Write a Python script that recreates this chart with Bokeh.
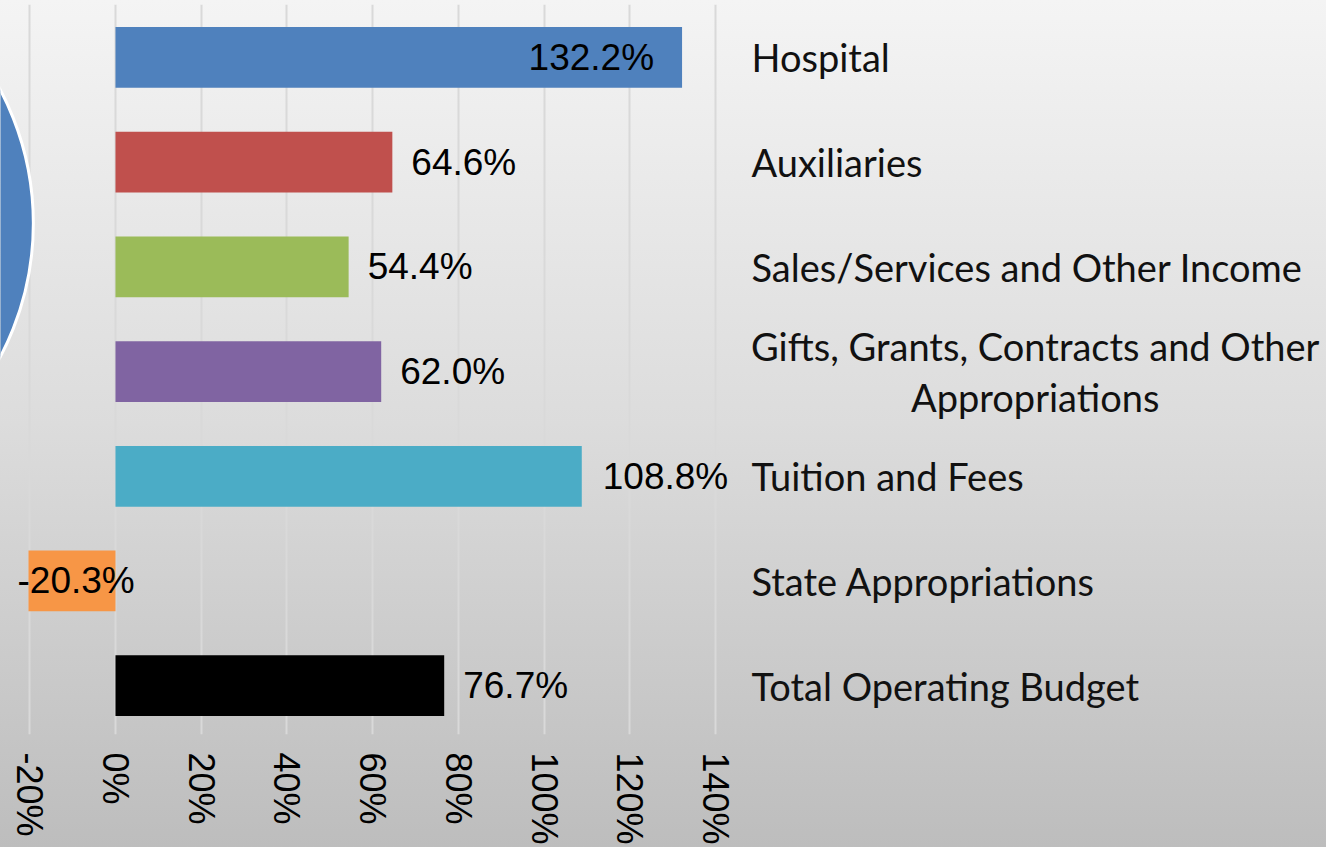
import math
from bokeh.plotting import figure
from bokeh.models import Range1d, FixedTicker, ColumnDataSource
from bokeh.core.properties import value
from bokeh.embed import file_html
from bokeh.resources import INLINE

# ---- data ----
categories = ["Hospital", "Auxiliaries", "Sales/Services and Other Income",
              "Gifts, Grants, Contracts and Other Appropriations", "Tuition and Fees",
              "State Appropriations", "Total Operating Budget"]
display_names = ["Hospital", "Auxiliaries", "Sales/Services and Other Income",
                 "Gifts, Grants, Contracts and Other\nAppropriations", "Tuition and Fees",
                 "State Appropriations", "Total Operating Budget"]
changes = [132.2, 64.6, 54.4, 62.0, 108.8, -20.3, 76.7]
value_labels = ["132.2%", "64.6%", "54.4%", "62.0%", "108.8%", "-20.3%", "76.7%"]
colors = ["#4F81BD", "#C0504D", "#9BBB59", "#8064A2", "#4BACC6", "#F79646", "#000000"]
tick_values = [-20, 0, 20, 40, 60, 80, 100, 120, 140]
tick_labels = ["-20%", "0%", "20%", "40%", "60%", "80%", "100%", "120%", "140%"]

# ---- label styling (not data) ----
label_align = ["right", "left", "left", "left", "left", "left", "left"]
label_offset = [-28, 19, 19, 19, 21, -11, 19]

# category slot positions: first category at the top
n = len(categories)
ypos = [n - 1 - i for i in range(n)]

W, H = 1326, 847
p = figure(width=W, height=H, output_backend="svg", toolbar_location=None,
           y_range=Range1d(-0.466, n - 1 + 0.505),
           x_range=Range1d(-26.83, 282.57),
           y_axis_location=None, x_axis_location="below",
           min_border=0, min_border_left=0, min_border_right=0, min_border_top=4,
           border_fill_color=None, background_fill_color=None, outline_line_color=None)
p.styles = {"background": "linear-gradient(to bottom, #f4f4f4 0%, #dcdcdc 50%, #bdbdbd 100%)"}

# grid
p.xgrid.ticker = FixedTicker(ticks=tick_values)
p.xgrid.grid_line_color = "#d9d9d9"
p.xgrid.grid_line_width = 2
p.ygrid.grid_line_color = None

# x axis
ax = p.xaxis[0]
ax.ticker = FixedTicker(ticks=tick_values)
ax.major_label_overrides = {v: t for v, t in zip(tick_values, tick_labels)}
ax.major_label_orientation = -math.pi / 2
ax.major_label_standoff = 12
ax.major_label_text_font = "Liberation Sans"
ax.major_label_text_font_size = "36px"
ax.major_label_text_color = "black"
ax.axis_line_color = None
ax.major_tick_line_color = None
ax.minor_tick_line_color = None

# decorative circle (partial pie on the left)
p.circle(x=[-85.9], y=[4.415], radius=286, radius_units="screen",
         fill_color="#4F81BD", line_color="white", line_width=3)

src = ColumnDataSource(dict(cat=categories, y=ypos, val=changes, color=colors, lab=value_labels,
                            align=label_align, off=label_offset))
p.hbar(y="y", right="val", left=0, height=0.58, fill_color="color", line_color=None, source=src)
p.text(x="val", y="y", text="lab", text_align="align", x_offset="off", text_baseline="middle",
       text_font=value("Liberation Sans"), text_font_size="37px", text_color="black", source=src)

# category names on the right
single = [i for i, nm in enumerate(display_names) if "\n" not in nm]
multi = [i for i, nm in enumerate(display_names) if "\n" in nm]
name_x = 148.4
p.text(x=[name_x] * len(single), y=[ypos[i] for i in single],
       text=[display_names[i] for i in single], text_align="left", text_baseline="middle",
       text_font=value("Lato"), text_font_size="38px", text_color="#111111")
p.text(x=[214.6] * len(multi), y=[ypos[i] for i in multi],
       text=[display_names[i] for i in multi], text_align="center", text_baseline="middle",
       text_line_height=1.12,
       text_font=value("Lato"), text_font_size="38px", text_color="#111111")

open("out.html", "w").write(file_html(p, INLINE))
